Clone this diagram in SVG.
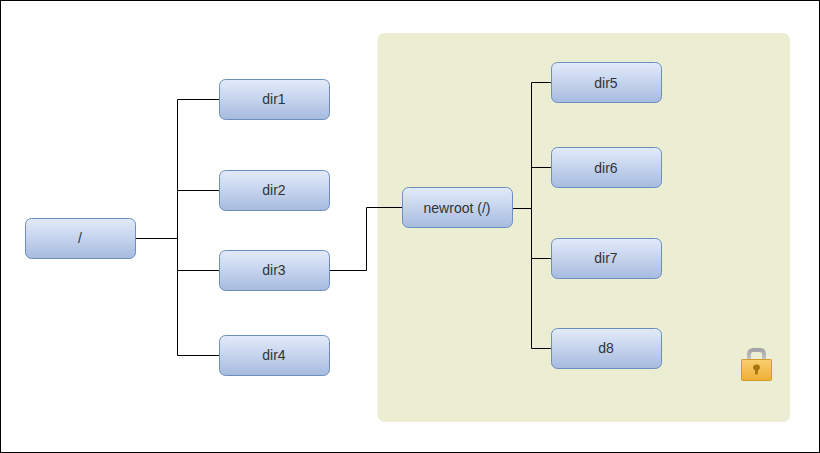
<svg xmlns="http://www.w3.org/2000/svg" width="820" height="453" viewBox="0 0 820 453">
<style>
.n{fill:url(#g);stroke:#6c8ebf;stroke-width:1}
.t{font-family:"Liberation Sans",Arial,sans-serif;font-size:14px;fill:#333;text-anchor:middle}
.c{fill:none;stroke:#000;stroke-width:1}
</style>
<defs>
<linearGradient id="g" x1="0" y1="0" x2="0" y2="1"><stop offset="0" stop-color="#e3ebfa"/><stop offset="1" stop-color="#a6bbdf"/></linearGradient>
<linearGradient id="l" x1="0" y1="0" x2="0" y2="1"><stop offset="0" stop-color="#f9cf70"/><stop offset="1" stop-color="#efae35"/></linearGradient>
<linearGradient id="s" x1="0" y1="0" x2="0" y2="1"><stop offset="0" stop-color="#a4a4a8"/><stop offset="1" stop-color="#c8c8cc"/></linearGradient>
</defs>
<rect x="0.5" y="0.5" width="819" height="452" fill="#fff" stroke="#000"/>
<rect id="zone" x="377.500" y="33" width="412.500" height="389" rx="7" fill="#ebeed2"/>
<g id="connectors">
<path class="c" d="M135.500 238.500H177.500V99.500H219.500"/>
<path class="c" d="M177.500 190.500H219.500"/>
<path class="c" d="M177.500 238.500V270.500H219.500"/>
<path class="c" d="M177.500 270.500V355.500H219.500"/>
<path class="c" d="M329.500 270.500H366.500V207.500H402.500"/>
<path class="c" d="M512.500 208.500H531.500V82.500H551.500"/>
<path class="c" d="M531.500 167.500H551.500"/>
<path class="c" d="M531.500 208.500V258.500H551.500"/>
<path class="c" d="M531.500 258.500V348.500H551.500"/>
</g>
<g id="root"><rect class="n" x="25.500" y="218.500" width="110" height="40" rx="6"/><text class="t" x="80" y="243">/</text></g>
<g id="dir1"><rect class="n" x="219.500" y="79.500" width="110" height="40" rx="6"/><text class="t" x="274" y="104">dir1</text></g>
<g id="dir2"><rect class="n" x="219.500" y="170.500" width="110" height="40" rx="6"/><text class="t" x="274" y="195">dir2</text></g>
<g id="dir3"><rect class="n" x="219.500" y="250.500" width="110" height="40" rx="6"/><text class="t" x="274" y="275">dir3</text></g>
<g id="dir4"><rect class="n" x="219.500" y="335.500" width="110" height="40" rx="6"/><text class="t" x="274" y="360">dir4</text></g>
<g id="newroot"><rect class="n" x="402.500" y="187.500" width="110" height="40" rx="6"/><text class="t" x="457" y="213">newroot (/)</text></g>
<g id="dir5"><rect class="n" x="551.500" y="62.500" width="110" height="40" rx="6"/><text class="t" x="606" y="88">dir5</text></g>
<g id="dir6"><rect class="n" x="551.500" y="147.500" width="110" height="40" rx="6"/><text class="t" x="606" y="173">dir6</text></g>
<g id="dir7"><rect class="n" x="551.500" y="238.500" width="110" height="40" rx="6"/><text class="t" x="606" y="263">dir7</text></g>
<g id="d8"><rect class="n" x="551.500" y="328.500" width="110" height="40" rx="6"/><text class="t" x="606" y="353">d8</text></g>
<g id="lock">
<path d="M749 360V354.500Q749 350 753.500 350H759.500Q764 350 764 354.500V360" fill="none" stroke="url(#s)" stroke-width="4"/>
<rect x="741.500" y="359.500" width="30" height="21" rx="1" fill="url(#l)" stroke="#d39a26"/>
<path d="M753 367.500a3.500 3 0 0 1 7 0q0 2 -2 2.800l-.3 4.200h-2.400l-.3 -4.200q-2 -.8 -2 -2.800z" fill="#a8740f"/>
</g>
</svg>
